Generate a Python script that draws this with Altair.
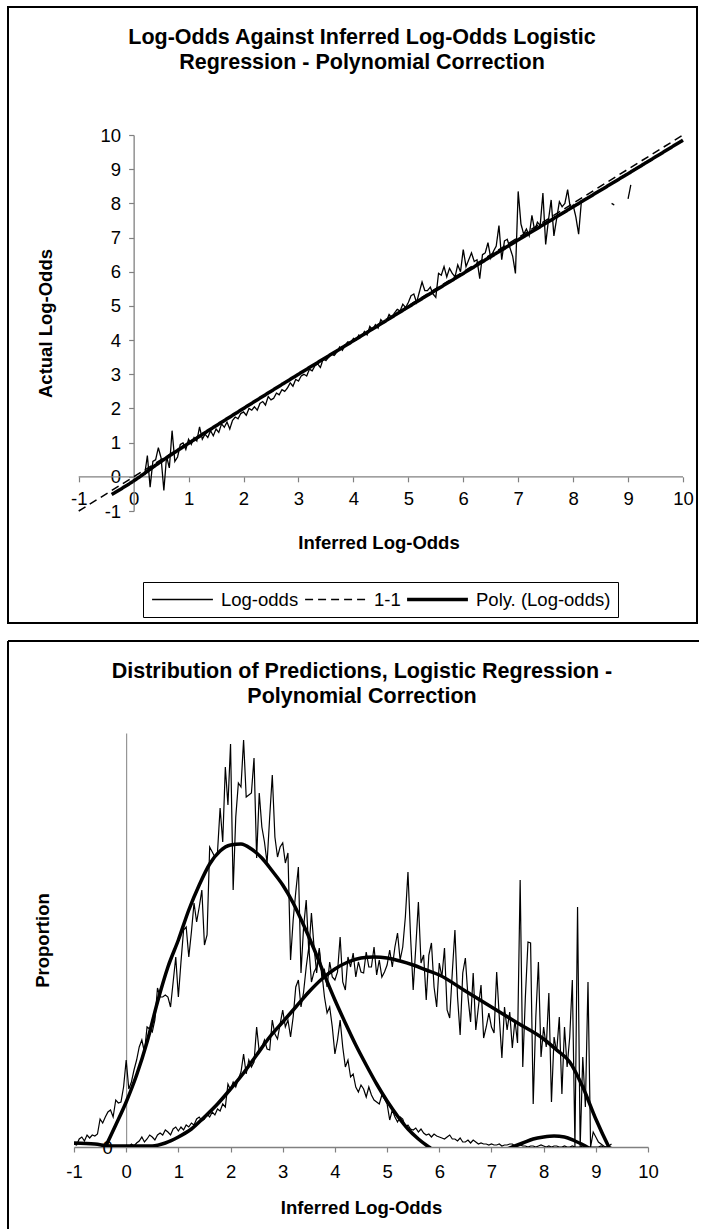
import altair as alt
import pandas as pd

FONT = "Liberation Sans"
INK = "#000000"
GREY = "#808080"

# ================= chart 1 data =================
title_top = ["Log-Odds Against Inferred Log-Odds Logistic", "Regression - Polynomial Correction"]
series_names = ["Log-odds", "1-1", "Poly. (Log-odds)"]
tick_values = [-1, 0, 1, 2, 3, 4, 5, 6, 7, 8, 9, 10]

log_x_start = 0.20
log_x_step = 0.05
log_odds = [
    0.05, 0.62, -0.30, 0.45, 0.50, 0.85, 0.55, -0.40, 0.60, 0.26,
    1.35, 0.45, 0.58, 0.95, 0.99, 0.80, 1.10, 0.95, 1.15, 1.05,
    1.46, 1.10, 1.25, 1.15, 1.35, 1.20, 1.40, 1.30, 1.55, 1.45,
    1.60, 1.40, 1.65, 1.75, 1.70, 1.85, 1.90, 1.80, 2.00, 1.95,
    2.05, 1.95, 2.15, 2.20, 2.10, 2.35, 2.25, 2.30, 2.45, 2.40,
    2.55, 2.50, 2.60, 2.75, 2.65, 2.85, 2.80, 2.95, 3.00, 2.95,
    3.15, 3.10, 3.25, 3.30, 3.20, 3.45, 3.40, 3.50, 3.60, 3.55,
    3.65, 3.80, 3.70, 3.85, 3.95, 3.90, 4.05, 4.00, 4.15, 4.10,
    4.25, 4.15, 4.40, 4.30, 4.45, 4.35, 4.60, 4.50, 4.55, 4.75,
    4.65, 4.80, 4.90, 4.85, 5.05, 4.95, 5.10, 5.30, 5.35, 5.10,
    5.40, 5.70, 5.45, 5.45, 5.55, 5.35, 5.25, 5.95, 5.90, 6.15,
    5.85, 6.10, 5.95, 5.85, 6.20, 6.00, 6.65, 6.15, 6.35, 6.55,
    6.30, 6.35, 5.80, 6.50, 6.55, 6.85, 6.40, 6.60, 6.75, 7.35,
    6.35, 6.90, 6.95, 6.70, 6.45, 5.95, 8.35, 7.40, 7.10, 7.25,
    7.05, 7.65, 7.20, 7.45, 7.35, 8.30, 6.80, 7.50, 8.10, 7.05,
    7.55, 8.05, 7.90, 8.00, 8.40, 7.85, 7.95, 7.60, 7.10, 8.05,
]
break_x = 8.40
tail_x = [8.70, 8.75, 8.85, 9.00, 9.05]
tail_y = [8.00, 7.95, None, 8.13, 8.54]
one_to_one_x = [-1, 10]
one_to_one_y = [-1, 10]
poly_top_x = [-0.4, 0.0, 0.5, 1.0, 2.0, 3.0, 4.0, 5.0, 6.0, 7.0, 8.0, 9.0, 10.0]
poly_top_y = [-0.52, -0.12, 0.45, 0.98, 2.00, 3.00, 3.98, 4.97, 5.95, 6.93, 7.90, 8.87, 9.85]
x_axis_line = {"x": [-1], "x2": [10], "y": [0]}

# ================= chart 2 data =================
title_bottom = ["Distribution of Predictions, Logistic Regression -", "Polynomial Correction"]
pred_step = 0.05
pred_a_start = -1.00
pred_b_start = 0.00
# proportion of predictions per bin (arbitrary units, axis max = 414)
pred_a = [
    3, 2, 8, 10, 6, 12, 9, 12, 11, 13,
    28, 24, 30, 35, 37, 30, 47, 44, 45, 60,
    87, 58, 65, 77, 87, 100, 107, 95, 120, 118,
    115, 127, 159, 150, 150, 152, 150, 140, 165, 190,
    150, 185, 217, 220, 190, 215, 244, 225, 240, 257,
    202, 212, 300, 295, 290, 295, 339, 305, 380, 342,
    403, 257, 330, 364, 360, 407, 350, 352, 354, 389,
    289, 354, 320, 305, 284, 330, 372, 310, 290, 300,
    304, 284, 294, 187, 227, 255, 280, 174, 220, 247,
    195, 234, 200, 174, 199, 174, 150, 134, 140, 120,
    93, 107, 127, 100, 80, 87, 70, 73, 60, 55,
    62, 58, 50, 60, 52, 47, 45, 43, 52, 48,
    43, 27, 37, 30, 25, 30, 28, 20, 22, 18,
    17, 19, 15, 18, 14, 12, 13, 10, 13, 11,
    10, 9, 8, 10, 12, 8, 8, 6, 9, 5,
    5, 7, 4, 7, 5, 3, 4, 3, 3, 2,
    3, 2, 2, 3, 1, 2, 2, 3, 3, 1,
    1, 2, 1, 1, 0, 1, 1, 0, 1, 2,
    1, 0, 1, 0, 1, 1, 0, 0, 1, 0,
    0, 1, 0, 0, 0, 1, 0, 0, 0, 0,
    0, 0, 1, 0, 0, 0, 0,
]
pred_b = [
    2, 0, 3, 1, 4, 6, 10, 5, 8, 12,
    10, 7, 12, 14, 12, 17, 15, 12, 18, 20,
    16, 20, 17, 22, 20, 24, 22, 28, 30, 26,
    28, 33, 30, 35, 32, 38, 36, 43, 40, 63,
    57, 65, 60, 68, 75, 93, 73, 87, 80, 85,
    120, 95, 100, 107, 98, 97, 127, 113, 108, 123,
    137, 120, 127, 110, 130, 160, 167, 140, 155, 180,
    200, 165, 175, 180, 197, 170, 177, 160, 185, 170,
    167, 175, 210, 165, 157, 190, 180, 194, 170, 185,
    175, 174, 195, 180, 180, 200, 172, 187, 170, 175,
    182, 197, 180, 200, 214, 187, 200, 230, 275, 210,
    157, 200, 245, 184, 192, 147, 192, 204, 160, 140,
    184, 170, 199, 137, 129, 175, 217, 150, 112, 174,
    189, 150, 125, 174, 117, 140, 162, 109, 120, 134,
    120, 114, 175, 130, 89, 140, 117, 135, 99, 127,
    104, 267, 80, 150, 205, 204, 43, 130, 185, 90,
    120, 100, 154, 45, 110, 95, 130, 53, 120, 80,
    110, 167, 0, 240, 0, 90, 40, 165, 0, 15,
    10, 5, 3, 1, 0, 1, 3,
]
poly_a_x = [-1.0, -0.7, -0.4, -0.2, 0.0, 0.2, 0.4, 0.6, 0.8, 1.0, 1.2, 1.4, 1.6, 1.8, 2.0,
            2.2, 2.4, 2.6, 2.8, 3.0, 3.2, 3.4, 3.6, 3.8, 4.0, 4.2, 4.4, 4.6, 4.8, 5.0,
            5.2, 5.4, 5.6, 5.8, 6.2, 6.6, 7.0, 7.4, 7.6, 7.8, 8.0, 8.2, 8.4, 8.6, 8.8, 9.0, 9.3]
poly_a_y = [-60, -30, 0, 22, 45, 72, 105, 145, 180, 207, 237, 262, 283, 296, 302,
            303, 298, 289, 276, 262, 244, 222, 198, 172, 147, 124, 102, 82, 63, 46,
            31, 18, 8, 0, -12, -14, -8, 0, 4, 8, 10, 11, 10, 6, 1, -6, -25]
poly_b_x = [-1.0, -0.6, -0.3, 0.0, 0.3, 0.5, 0.75, 1.0, 1.25, 1.5, 1.75, 2.0, 2.25, 2.5,
            2.75, 3.0, 3.25, 3.5, 3.75, 4.0, 4.25, 4.5, 4.75, 5.0, 5.25, 5.5, 5.75, 6.0,
            6.5, 7.0, 7.5, 8.0, 8.25, 8.5, 8.75, 9.0, 9.25, 9.35]
poly_b_y = [4, 3, 1, 1, 1, 1, 4, 10, 18, 30, 43, 58, 74, 92,
            110, 125, 140, 155, 168, 178, 185, 189, 190, 189, 186, 182, 177, 172,
            156, 140, 124, 108, 97, 85, 60, 28, 0, -10]

# ================= layout (pixels) =================
PX = 74                        # common left edge of both plot areas
UNIT1 = 54.94                  # px per unit, chart 1 x-axis
X1_MIN = -1 - (78.7 - PX) / UNIT1
W1, H1 = 609, 376              # plot area chart 1
P1y = 135
W2, H2 = 574, 414              # plot area chart 2
P2y = 733

# ================= chart 1 =================
rows = []
for i, v in enumerate(log_odds):
    rows.append({"x": round(log_x_start + i * log_x_step, 2), "y": v, "s": series_names[0]})
rows.append({"x": break_x, "y": None, "s": series_names[0]})
for x, y in zip(tail_x, tail_y):
    rows.append({"x": x, "y": y, "s": series_names[0]})
for x, y in zip(one_to_one_x, one_to_one_y):
    rows.append({"x": x, "y": y, "s": series_names[1]})
lin_df = pd.DataFrame(rows)
poly_df = pd.DataFrame({"x": poly_top_x, "y": poly_top_y, "s": series_names[2]})

xs1 = alt.Scale(domain=[X1_MIN, 10], nice=False, zero=False)
ys1 = alt.Scale(domain=[-1, 10], nice=False, zero=False)

legend1 = alt.Legend(
    title=None, orient="none", legendX=143 - PX, legendY=582 - P1y, direction="horizontal",
    columns=3, columnPadding=4, labelFont=FONT, labelFontSize=18.5, labelColor=INK,
    labelOffset=6, symbolType="stroke", symbolSize=3700, symbolStrokeColor=INK,
    strokeColor=INK, padding=7, fillColor="white", clipHeight=21,
)


def style_channels():
    return dict(
        color=alt.Color("s:N", scale=alt.Scale(domain=series_names, range=[INK, INK, INK]), legend=legend1),
        strokeDash=alt.StrokeDash("s:N", scale=alt.Scale(domain=series_names, range=[[1, 0], [8, 5], [1, 0]]),
                                  legend=legend1),
        strokeWidth=alt.StrokeWidth("s:N", scale=alt.Scale(type="ordinal", domain=series_names, range=[1.3, 1.5, 3.5]),
                                    legend=legend1),
    )


x0_px1 = PX + (0 - X1_MIN) * UNIT1   # pixel position of x = 0
x_axis1 = alt.Axis(title="Inferred Log-Odds", values=tick_values, offset=-H1 / 11, labelPadding=8,
                   domain=False, titleY=66, titleBaseline="middle", labelExpr="'' + datum.value")
y_axis1 = alt.Axis(title="Actual Log-Odds", values=tick_values, offset=-(x0_px1 - PX), labelPadding=8,
                   titleX=45 - x0_px1, titleY=H1 / 2, titleBaseline="middle",
                   labelExpr="'' + datum.value")


def x1(field="x"):
    return alt.X(f"{field}:Q", scale=xs1, axis=x_axis1)


def y1(field="y"):
    return alt.Y(f"{field}:Q", scale=ys1, axis=y_axis1)


lines1 = alt.Chart(lin_df).mark_line().encode(x=x1(), y=y1(), **style_channels())
poly1 = alt.Chart(poly_df).mark_line(interpolate="monotone").encode(x=x1(), y=y1(), **style_channels())
axis_rule1 = alt.Chart(pd.DataFrame(x_axis_line)).mark_rule(color=GREY, strokeWidth=1.3).encode(
    x=x1(), x2="x2:Q", y=y1(),
)
frame1 = alt.Chart(pd.DataFrame({"f": [0]})).mark_rect(
    fill="transparent", stroke=INK, strokeWidth=2
).encode(
    x=alt.value(8 - PX), x2=alt.value(697 - PX),
    y=alt.value(7 - P1y), y2=alt.value(623 - P1y),
)

top = alt.layer(axis_rule1, lines1, poly1, frame1).properties(
    width=W1, height=H1,
    title=alt.Title(text=title_top, offset=-67.5, dx=362 - (PX + W1 / 2)),
)

# ================= chart 2 =================
a_df = pd.DataFrame({"x": [round(pred_a_start + i * pred_step, 2) for i in range(len(pred_a))], "p": pred_a})
b_df = pd.DataFrame({"x": [round(pred_b_start + i * pred_step, 2) for i in range(len(pred_b))], "p": pred_b})
pa_df = pd.DataFrame({"x": poly_a_x, "p": poly_a_y})
pb_df = pd.DataFrame({"x": poly_b_x, "p": poly_b_y})

xs2 = alt.Scale(domain=[-1, 10], nice=False, zero=False)
ys2 = alt.Scale(domain=[0, 414], nice=False)

x_axis2 = alt.Axis(title="Inferred Log-Odds", values=tick_values, labelPadding=10,
                   titleY=60, titleBaseline="middle", labelExpr="'' + datum.value")
y_axis2 = alt.Axis(title="Proportion", values=[0], ticks=False, offset=-W2 / 11, labelPadding=14,
                   titleX=42 - (PX + W2 / 11), titleY=H2 / 2, titleBaseline="middle", domainWidth=1)


def x2():
    return alt.X("x:Q", scale=xs2, axis=x_axis2)


def y2():
    return alt.Y("p:Q", scale=ys2, axis=y_axis2)


thin_a = alt.Chart(a_df).mark_line(color=INK, strokeWidth=1.2, clip=True).encode(x=x2(), y=y2())
thin_b = alt.Chart(b_df).mark_line(color=INK, strokeWidth=1.2, clip=True).encode(x=x2(), y=y2())
fit_a = alt.Chart(pa_df).mark_line(color=INK, strokeWidth=3.5, interpolate="monotone", clip=True).encode(
    x=x2(), y=y2())
fit_b = alt.Chart(pb_df).mark_line(color=INK, strokeWidth=3.5, interpolate="monotone", clip=True).encode(
    x=x2(), y=y2())
frame2_left = alt.Chart(pd.DataFrame({"f": [0]})).mark_rule(color=INK, strokeWidth=2).encode(
    x=alt.value(8 - PX), y=alt.value(641 - P2y), y2=alt.value(1229 - P2y),
)
frame2_top = alt.Chart(pd.DataFrame({"f": [0]})).mark_rule(color=INK, strokeWidth=2).encode(
    x=alt.value(8 - PX), x2=alt.value(699 - PX), y=alt.value(641 - P2y),
)

bottom = alt.layer(thin_a, thin_b, fit_a, fit_b, frame2_left, frame2_top).properties(
    width=W2, height=H2,
    title=alt.Title(text=title_bottom, offset=-67.5, dx=362 - (PX + W2 / 2)),
)

chart = alt.vconcat(top, bottom, spacing=16).properties(
    padding={"left": 7, "top": 6, "right": 0, "bottom": 0},
    background="white",
).configure_view(strokeWidth=0).configure_axis(
    labelFont=FONT, labelFontSize=18.5, labelColor=INK,
    titleFont=FONT, titleFontSize=18.5, titleFontWeight="bold", titleColor=INK,
    domainColor=GREY, domainWidth=1.3, tickColor=GREY, tickWidth=1.2, tickSize=5,
    grid=False, labelOverlap=False, labelFlush=False,
).configure_title(
    font=FONT, fontSize=21.5, fontWeight="bold", color=INK, anchor="middle",
    frame="group", lineHeight=25,
)

chart.save("out.html", embed_options={"renderer": "svg", "actions": False})
